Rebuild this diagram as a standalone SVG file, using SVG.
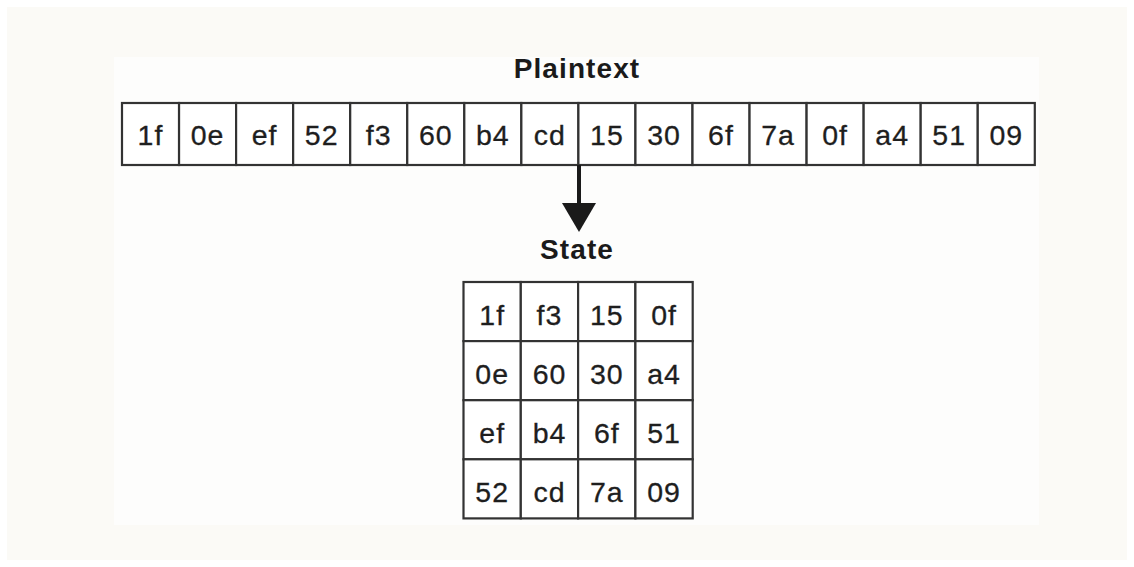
<svg xmlns="http://www.w3.org/2000/svg" width="1134" height="567" viewBox="0 0 1134 567">
  <style>
    .cell { fill: #ffffff; stroke: #333333; stroke-width: 2.2; }
    .hex { font-family: "Liberation Sans", Arial, sans-serif; font-size: 28.5px; fill: #1e1e1e; text-anchor: middle; letter-spacing: 1px; stroke: #1e1e1e; stroke-width: 0.3; }
    .title { font-family: "Liberation Sans", Arial, sans-serif; font-size: 28px; font-weight: bold; fill: #1a1a1a; text-anchor: middle; letter-spacing: 1.1px; }
    .conn { stroke: #1a1a1a; stroke-width: 4; fill: none; }
  </style>

  <!-- backdrop -->
  <rect x="0" y="0" width="1134" height="567" fill="#ffffff"/>
  <rect x="7" y="7" width="1120" height="553" fill="#fbfaf6"/>
  <rect x="114" y="57" width="925" height="468" fill="#fdfdfc"/>

  <!-- plaintext block: 16 bytes in a row -->
  <g id="plaintext">
    <text class="title" x="577" y="78">Plaintext</text>
    <g id="plaintext-cells">
      <rect class="cell" x="122" y="103" width="57.05" height="62"/>
      <rect class="cell" x="179.05" y="103" width="57.05" height="62"/>
      <rect class="cell" x="236.1" y="103" width="57.05" height="62"/>
      <rect class="cell" x="293.15" y="103" width="57.05" height="62"/>
      <rect class="cell" x="350.2" y="103" width="57.05" height="62"/>
      <rect class="cell" x="407.25" y="103" width="57.05" height="62"/>
      <rect class="cell" x="464.3" y="103" width="57.05" height="62"/>
      <rect class="cell" x="521.35" y="103" width="57.05" height="62"/>
      <rect class="cell" x="578.4" y="103" width="57.05" height="62"/>
      <rect class="cell" x="635.45" y="103" width="57.05" height="62"/>
      <rect class="cell" x="692.5" y="103" width="57.05" height="62"/>
      <rect class="cell" x="749.55" y="103" width="57.05" height="62"/>
      <rect class="cell" x="806.6" y="103" width="57.05" height="62"/>
      <rect class="cell" x="863.65" y="103" width="57.05" height="62"/>
      <rect class="cell" x="920.7" y="103" width="57.05" height="62"/>
      <rect class="cell" x="977.75" y="103" width="57.05" height="62"/>
    </g>
    <g id="plaintext-bytes">
      <text class="hex" x="150.5" y="144.5">1f</text>
      <text class="hex" x="207.6" y="144.5">0e</text>
      <text class="hex" x="264.6" y="144.5">ef</text>
      <text class="hex" x="321.7" y="144.5">52</text>
      <text class="hex" x="378.7" y="144.5">f3</text>
      <text class="hex" x="435.8" y="144.5">60</text>
      <text class="hex" x="492.8" y="144.5">b4</text>
      <text class="hex" x="549.9" y="144.5">cd</text>
      <text class="hex" x="606.9" y="144.5">15</text>
      <text class="hex" x="664" y="144.5">30</text>
      <text class="hex" x="721" y="144.5">6f</text>
      <text class="hex" x="778.1" y="144.5">7a</text>
      <text class="hex" x="835.1" y="144.5">0f</text>
      <text class="hex" x="892.2" y="144.5">a4</text>
      <text class="hex" x="949.2" y="144.5">51</text>
      <text class="hex" x="1006.3" y="144.5">09</text>
    </g>
  </g>

  <!-- mapping arrow -->
  <g id="connectors">
    <line class="conn" x1="579" y1="165" x2="579" y2="206"/>
    <polygon points="562,203 596,203 579,232" fill="#1a1a1a"/>
  </g>

  <!-- state block: 4x4 column-major matrix -->
  <g id="state">
    <text class="title" x="577" y="259">State</text>
    <g id="state-cells">
      <rect class="cell" x="463.5" y="282" width="57.3" height="59.1"/>
      <rect class="cell" x="520.8" y="282" width="57.3" height="59.1"/>
      <rect class="cell" x="578.1" y="282" width="57.3" height="59.1"/>
      <rect class="cell" x="635.4" y="282" width="57.3" height="59.1"/>
      <rect class="cell" x="463.5" y="341.1" width="57.3" height="59.1"/>
      <rect class="cell" x="520.8" y="341.1" width="57.3" height="59.1"/>
      <rect class="cell" x="578.1" y="341.1" width="57.3" height="59.1"/>
      <rect class="cell" x="635.4" y="341.1" width="57.3" height="59.1"/>
      <rect class="cell" x="463.5" y="400.2" width="57.3" height="59.1"/>
      <rect class="cell" x="520.8" y="400.2" width="57.3" height="59.1"/>
      <rect class="cell" x="578.1" y="400.2" width="57.3" height="59.1"/>
      <rect class="cell" x="635.4" y="400.2" width="57.3" height="59.1"/>
      <rect class="cell" x="463.5" y="459.3" width="57.3" height="59.1"/>
      <rect class="cell" x="520.8" y="459.3" width="57.3" height="59.1"/>
      <rect class="cell" x="578.1" y="459.3" width="57.3" height="59.1"/>
      <rect class="cell" x="635.4" y="459.3" width="57.3" height="59.1"/>
    </g>
    <g id="state-bytes">
      <text class="hex" x="492.2" y="324.5">1f</text>
      <text class="hex" x="549.5" y="324.5">f3</text>
      <text class="hex" x="606.8" y="324.5">15</text>
      <text class="hex" x="664.1" y="324.5">0f</text>
      <text class="hex" x="492.2" y="383.5">0e</text>
      <text class="hex" x="549.5" y="383.5">60</text>
      <text class="hex" x="606.8" y="383.5">30</text>
      <text class="hex" x="664.1" y="383.5">a4</text>
      <text class="hex" x="492.2" y="442.5">ef</text>
      <text class="hex" x="549.5" y="442.5">b4</text>
      <text class="hex" x="606.8" y="442.5">6f</text>
      <text class="hex" x="664.1" y="442.5">51</text>
      <text class="hex" x="492.2" y="501.5">52</text>
      <text class="hex" x="549.5" y="501.5">cd</text>
      <text class="hex" x="606.8" y="501.5">7a</text>
      <text class="hex" x="664.1" y="501.5">09</text>
    </g>
  </g>
</svg>
